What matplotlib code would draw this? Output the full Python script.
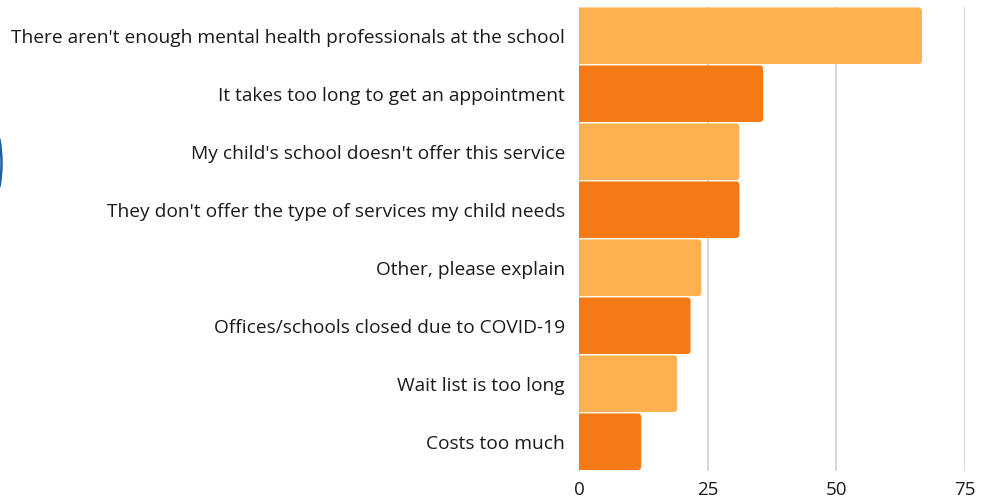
import matplotlib
matplotlib.use("Agg")
import matplotlib.pyplot as plt
from matplotlib.patches import FancyBboxPatch, Arc

categories = [
    "There aren't enough mental health professionals at the school",
    "It takes too long to get an appointment",
    "My child's school doesn't offer this service",
    "They don't offer the type of services my child needs",
    "Other, please explain",
    "Offices/schools closed due to COVID-19",
    "Wait list is too long",
    "Costs too much",
]
values = [66.7, 35.8, 31.2, 31.2, 23.8, 21.7, 19.1, 12.1]
xticks = [0, 25, 50, 75]
colors = ["#FFB152", "#F57A16"]

plt.rcParams['font.family'] = ['Open Sans', 'DejaVu Sans']

fig = plt.figure(figsize=(9.89, 5.0), dpi=100)
ax = fig.add_axes([579 / 989, 1 - 470.7 / 500, (964.7 - 579) / 989, (470.7 - 6.7) / 500])

ypos = list(range(len(categories)))
bars = ax.barh(ypos, values, height=0.975,
               color=[colors[i % 2] for i in range(len(values))], zorder=3)

# replace with right-rounded bars
xscale = 75 / (964.7 - 579)   # data per px in x
yscale = 8 / 464.0            # data per px in y
r_px = 3.5
for b in bars:
    x0, y0, w, h = b.get_x(), b.get_y(), b.get_width(), b.get_height()
    b.set_visible(False)
    p = FancyBboxPatch((x0 - 10, y0), w + 10, h,
                       boxstyle=f"round,pad=0,rounding_size={r_px * xscale}",
                       mutation_aspect=yscale / xscale,
                       facecolor=b.get_facecolor(), edgecolor='none', zorder=3)
    ax.add_patch(p)

ax.set_xlim(0, 75)
ax.set_ylim(7.5, -0.5)
ax.set_yticks(ypos)
ax.set_yticklabels(categories, fontsize=13.8, color="#1a1a1a")
ax.set_xticks(xticks)
ax.set_xticklabels([str(t) for t in xticks], fontsize=13.5, color="#1a1a1a")
ax.tick_params(axis='both', length=0)
ax.tick_params(axis='y', pad=10)
ax.tick_params(axis='x', pad=7.5)
ax.xaxis.grid(True, color="#d0d0d0", linewidth=1.2)
ax.set_axisbelow(True)
for s in ['top', 'right', 'bottom']:
    ax.spines[s].set_visible(False)
ax.spines['left'].set_color("#e4e4e4")
ax.spines['left'].set_linewidth(1.0)

# decorative blue arc at left edge
arc = Arc((-132.5 / 989, 1 - 163 / 500), 268 / 989, 268 / 500, theta1=-20, theta2=20,
          transform=fig.transFigure, color="#1a5ea8", linewidth=1.8)
fig.add_artist(arc)

fig.savefig("out.png", dpi=100)
